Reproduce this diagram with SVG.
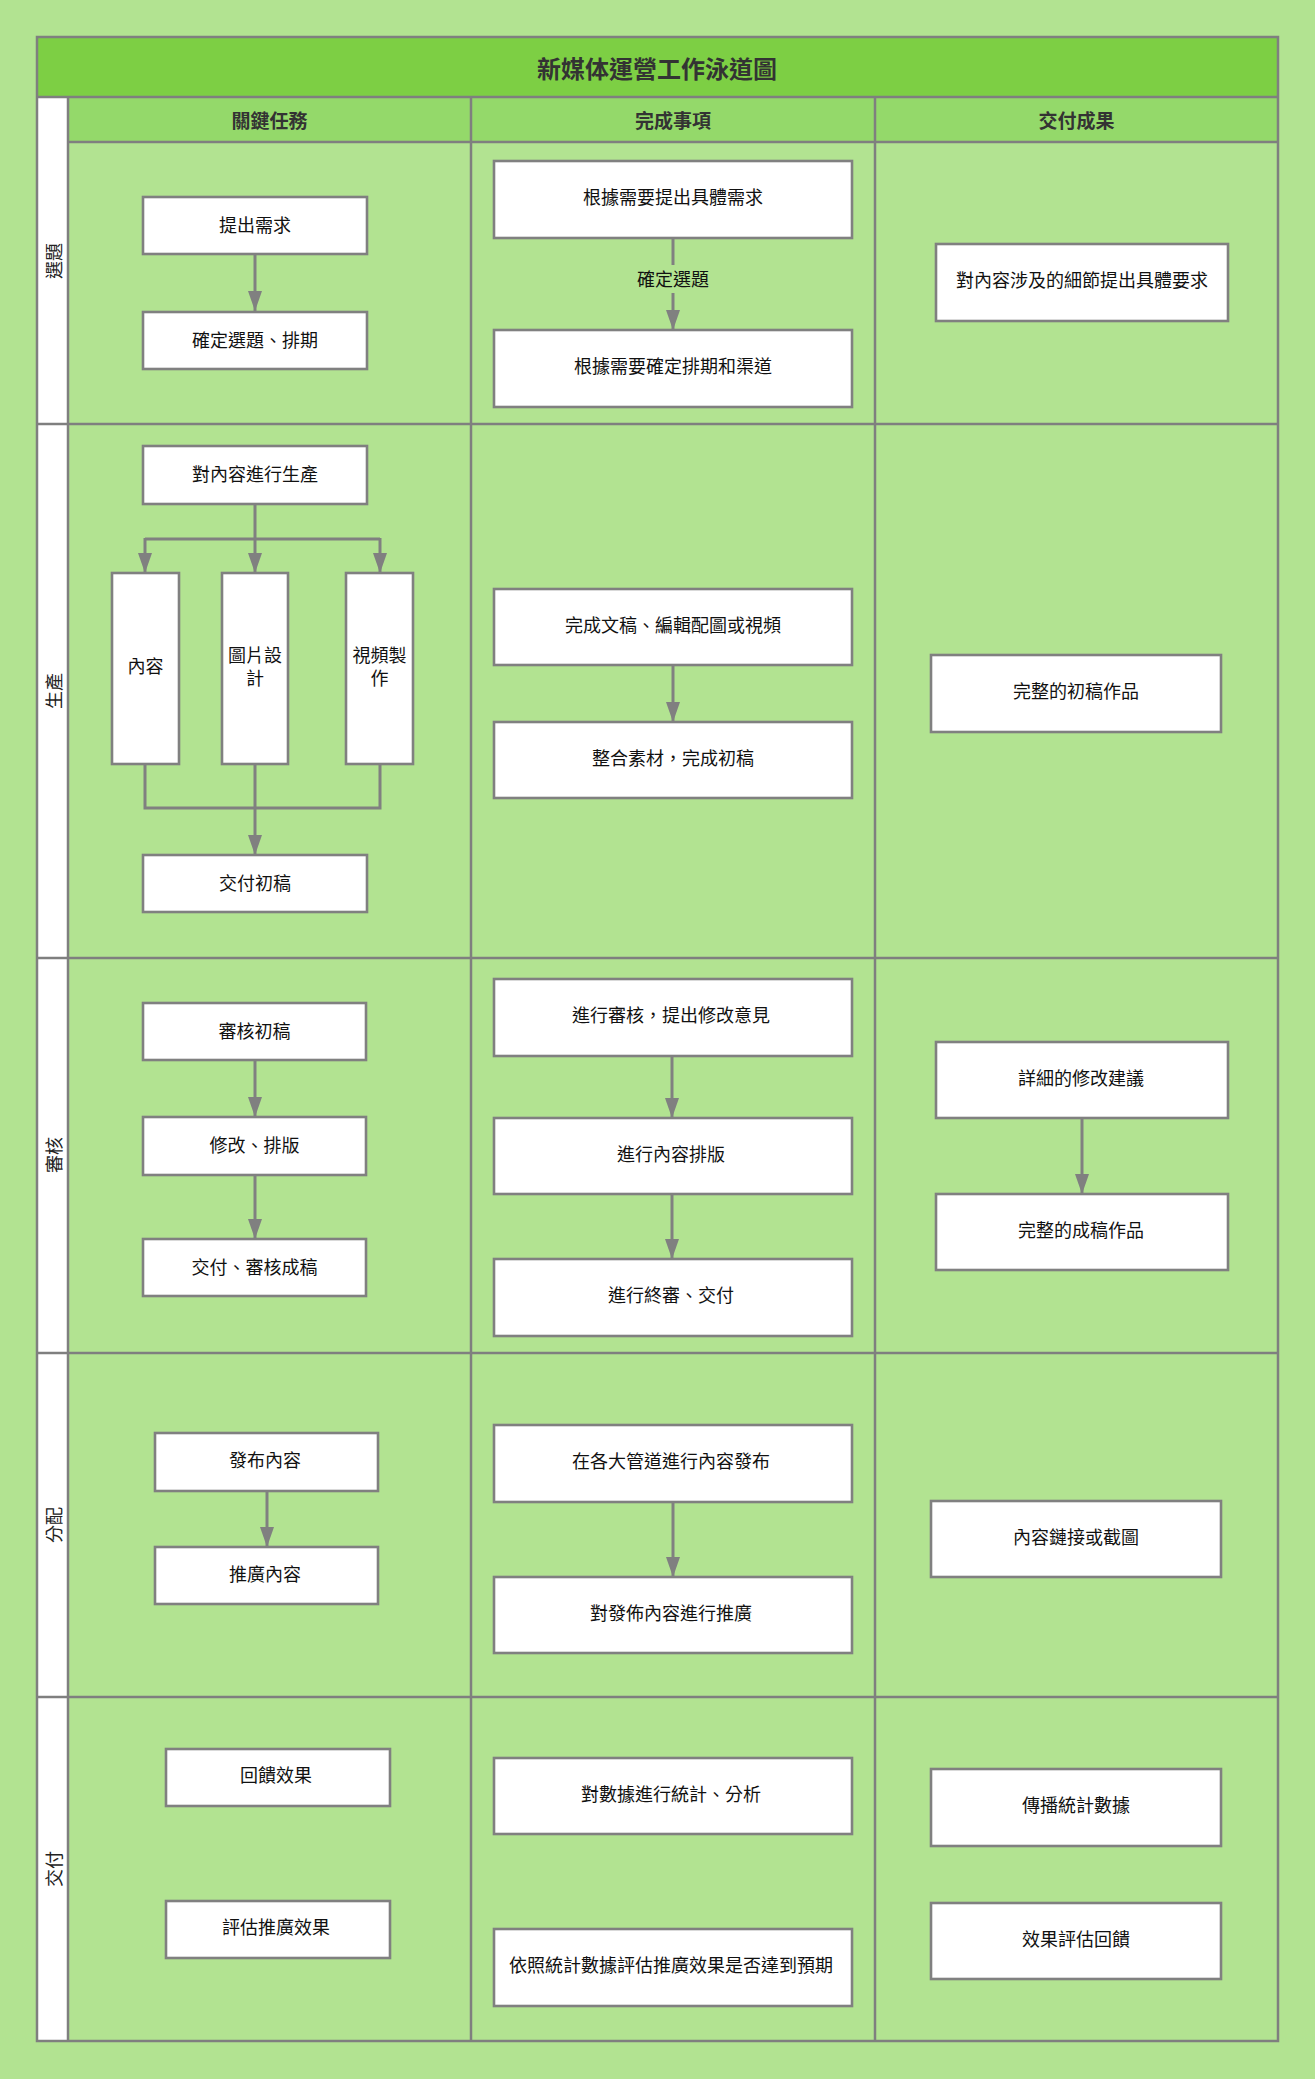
<svg xmlns="http://www.w3.org/2000/svg" width="1315" height="2079" viewBox="0 0 1315 2079">
<defs>
<style>
.grid{stroke:#7f7f7f;stroke-width:2.5;fill:none}
.box{fill:#ffffff;stroke:#808080;stroke-width:2.6}
.t{font-family:"Noto Sans CJK TC","Noto Sans CJK SC",sans-serif;font-size:18px;fill:#111;text-anchor:middle;dominant-baseline:central}
.h{font-family:"Noto Sans CJK TC","Noto Sans CJK SC",sans-serif;font-size:19px;font-weight:bold;fill:#333;text-anchor:middle;dominant-baseline:central}
.title{font-family:"Noto Sans CJK TC","Noto Sans CJK SC",sans-serif;font-size:24px;font-weight:bold;fill:#333;text-anchor:middle;dominant-baseline:central}
.lane{font-family:"Noto Sans CJK TC","Noto Sans CJK SC",sans-serif;font-size:18px;fill:#222;text-anchor:middle;dominant-baseline:central}
.c{stroke:#808080;stroke-width:3;fill:none}
.ca{stroke:#808080;stroke-width:3;fill:none;marker-end:url(#arr)}
</style>
<marker id="arr" markerUnits="userSpaceOnUse" markerWidth="20" markerHeight="14" refX="20" refY="7" orient="auto">
<path d="M0,0 L20,7 L0,14 z" fill="#808080"/>
</marker>
</defs>
<rect x="0" y="0" width="1315" height="2079" fill="#b2e391"/>
<g id="pool">
<rect x="37" y="37" width="1241" height="60" fill="#7dcf44"/>
<rect x="68" y="97" width="1210" height="45" fill="#94d96a"/>
<rect x="37" y="97" width="31" height="1944" fill="#ffffff"/>
<rect x="68" y="142" width="1210" height="1899" fill="#b2e391"/>
<rect x="37" y="37" width="1241" height="2004" class="grid"/>
<path class="grid" d="M37,97 H1278 M68,142 H1278 M37,424 H1278 M37,958 H1278 M37,1353 H1278 M37,1697 H1278 M68,97 V2041 M471,97 V2041 M875,97 V2041"/>
<text class="title" x="657" y="67">新媒体運營工作泳道圖</text>
<text class="h" x="269.5" y="119">關鍵任務</text>
<text class="h" x="673" y="119">完成事項</text>
<text class="h" x="1076.5" y="119">交付成果</text>
<text class="lane" transform="translate(53,261) rotate(-90)">選題</text>
<text class="lane" transform="translate(53,691) rotate(-90)">生產</text>
<text class="lane" transform="translate(53,1155) rotate(-90)">審核</text>
<text class="lane" transform="translate(53,1525) rotate(-90)">分配</text>
<text class="lane" transform="translate(53,1869) rotate(-90)">交付</text>
</g>
<g id="connectors">
<line class="ca" x1="255" y1="254" x2="255" y2="311"/>
<line class="ca" x1="673" y1="238" x2="673" y2="330"/>
<rect x="636" y="265" width="74" height="28" fill="#b2e391"/>
<text class="t" x="673" y="278">確定選題</text>
<path class="c" d="M255,504 V539 M145,539 H380"/>
<line class="ca" x1="145" y1="538" x2="145" y2="573"/>
<line class="ca" x1="255" y1="538" x2="255" y2="573"/>
<line class="ca" x1="380" y1="538" x2="380" y2="573"/>
<path class="c" d="M145,764 V808 H380 V764 M255,764 V808"/>
<line class="ca" x1="255" y1="807" x2="255" y2="855"/>
<line class="ca" x1="673" y1="665" x2="673" y2="722"/>
<line class="ca" x1="255" y1="1060" x2="255" y2="1117"/>
<line class="ca" x1="255" y1="1175" x2="255" y2="1239"/>
<line class="ca" x1="672" y1="1056" x2="672" y2="1118"/>
<line class="ca" x1="672" y1="1194" x2="672" y2="1259"/>
<line class="ca" x1="1082" y1="1118" x2="1082" y2="1194"/>
<line class="ca" x1="267" y1="1491" x2="267" y2="1547"/>
<line class="ca" x1="673" y1="1502" x2="673" y2="1577"/>
</g>
<g id="n1"><rect class="box" x="143" y="197" width="224" height="57"/><text class="t" x="255" y="223.5">提出需求</text></g>
<g id="n2"><rect class="box" x="143" y="312" width="224" height="57"/><text class="t" x="255" y="338.5">確定選題、排期</text></g>
<g id="n3"><rect class="box" x="494" y="161" width="358" height="77"/><text class="t" x="673" y="196">根據需要提出具體需求</text></g>
<g id="n4"><rect class="box" x="494" y="330" width="358" height="77"/><text class="t" x="673" y="365">根據需要確定排期和渠道</text></g>
<g id="n5"><rect class="box" x="936" y="244" width="292" height="77"/><text class="t" x="1082" y="279">對內容涉及的細節提出具體要求</text></g>
<g id="n6"><rect class="box" x="143" y="446" width="224" height="58"/><text class="t" x="255" y="473">對內容進行生產</text></g>
<g id="n7"><rect class="box" x="112" y="573" width="67" height="191"/><text class="t" x="145.5" y="665">內容</text></g>
<g id="n8"><rect class="box" x="222" y="573" width="66" height="191"/><text class="t" x="255" y="654">圖片設</text><text class="t" x="255" y="677">計</text></g>
<g id="n9"><rect class="box" x="346" y="573" width="67" height="191"/><text class="t" x="379.5" y="654">視頻製</text><text class="t" x="379.5" y="677">作</text></g>
<g id="n10"><rect class="box" x="143" y="855" width="224" height="57"/><text class="t" x="255" y="881.5">交付初稿</text></g>
<g id="n11"><rect class="box" x="494" y="589" width="358" height="76"/><text class="t" x="673" y="624">完成文稿、編輯配圖或視頻</text></g>
<g id="n12"><rect class="box" x="494" y="722" width="358" height="76"/><text class="t" x="673" y="757">整合素材，完成初稿</text></g>
<g id="n13"><rect class="box" x="931" y="655" width="290" height="77"/><text class="t" x="1076" y="690">完整的初稿作品</text></g>
<g id="n14"><rect class="box" x="143" y="1003" width="223" height="57"/><text class="t" x="254.5" y="1029.5">審核初稿</text></g>
<g id="n15"><rect class="box" x="143" y="1117" width="223" height="58"/><text class="t" x="254.5" y="1144">修改、排版</text></g>
<g id="n16"><rect class="box" x="143" y="1239" width="223" height="57"/><text class="t" x="254.5" y="1265.5">交付、審核成稿</text></g>
<g id="n17"><rect class="box" x="494" y="979" width="358" height="77"/><text class="t" x="671" y="1014">進行審核，提出修改意見</text></g>
<g id="n18"><rect class="box" x="494" y="1118" width="358" height="76"/><text class="t" x="671" y="1153">進行內容排版</text></g>
<g id="n19"><rect class="box" x="494" y="1259" width="358" height="77"/><text class="t" x="671" y="1294">進行終審、交付</text></g>
<g id="n20"><rect class="box" x="936" y="1042" width="292" height="76"/><text class="t" x="1081" y="1077">詳細的修改建議</text></g>
<g id="n21"><rect class="box" x="936" y="1194" width="292" height="76"/><text class="t" x="1081" y="1229">完整的成稿作品</text></g>
<g id="n22"><rect class="box" x="155" y="1433" width="223" height="58"/><text class="t" x="265" y="1459">發布內容</text></g>
<g id="n23"><rect class="box" x="155" y="1547" width="223" height="57"/><text class="t" x="265" y="1573">推廣內容</text></g>
<g id="n24"><rect class="box" x="494" y="1425" width="358" height="77"/><text class="t" x="671" y="1460">在各大管道進行內容發布</text></g>
<g id="n25"><rect class="box" x="494" y="1577" width="358" height="76"/><text class="t" x="671" y="1612">對發佈內容進行推廣</text></g>
<g id="n26"><rect class="box" x="931" y="1501" width="290" height="76"/><text class="t" x="1076" y="1536">內容鏈接或截圖</text></g>
<g id="n27"><rect class="box" x="166" y="1749" width="224" height="57"/><text class="t" x="276" y="1774">回饋效果</text></g>
<g id="n28"><rect class="box" x="166" y="1901" width="224" height="57"/><text class="t" x="276" y="1926">評估推廣效果</text></g>
<g id="n29"><rect class="box" x="494" y="1758" width="358" height="76"/><text class="t" x="671" y="1793">對數據進行統計、分析</text></g>
<g id="n30"><rect class="box" x="494" y="1929" width="358" height="77"/><text class="t" x="671" y="1964">依照統計數據評估推廣效果是否達到預期</text></g>
<g id="n31"><rect class="box" x="931" y="1769" width="290" height="77"/><text class="t" x="1076" y="1804">傳播統計數據</text></g>
<g id="n32"><rect class="box" x="931" y="1903" width="290" height="76"/><text class="t" x="1076" y="1938">效果評估回饋</text></g>
</svg>
